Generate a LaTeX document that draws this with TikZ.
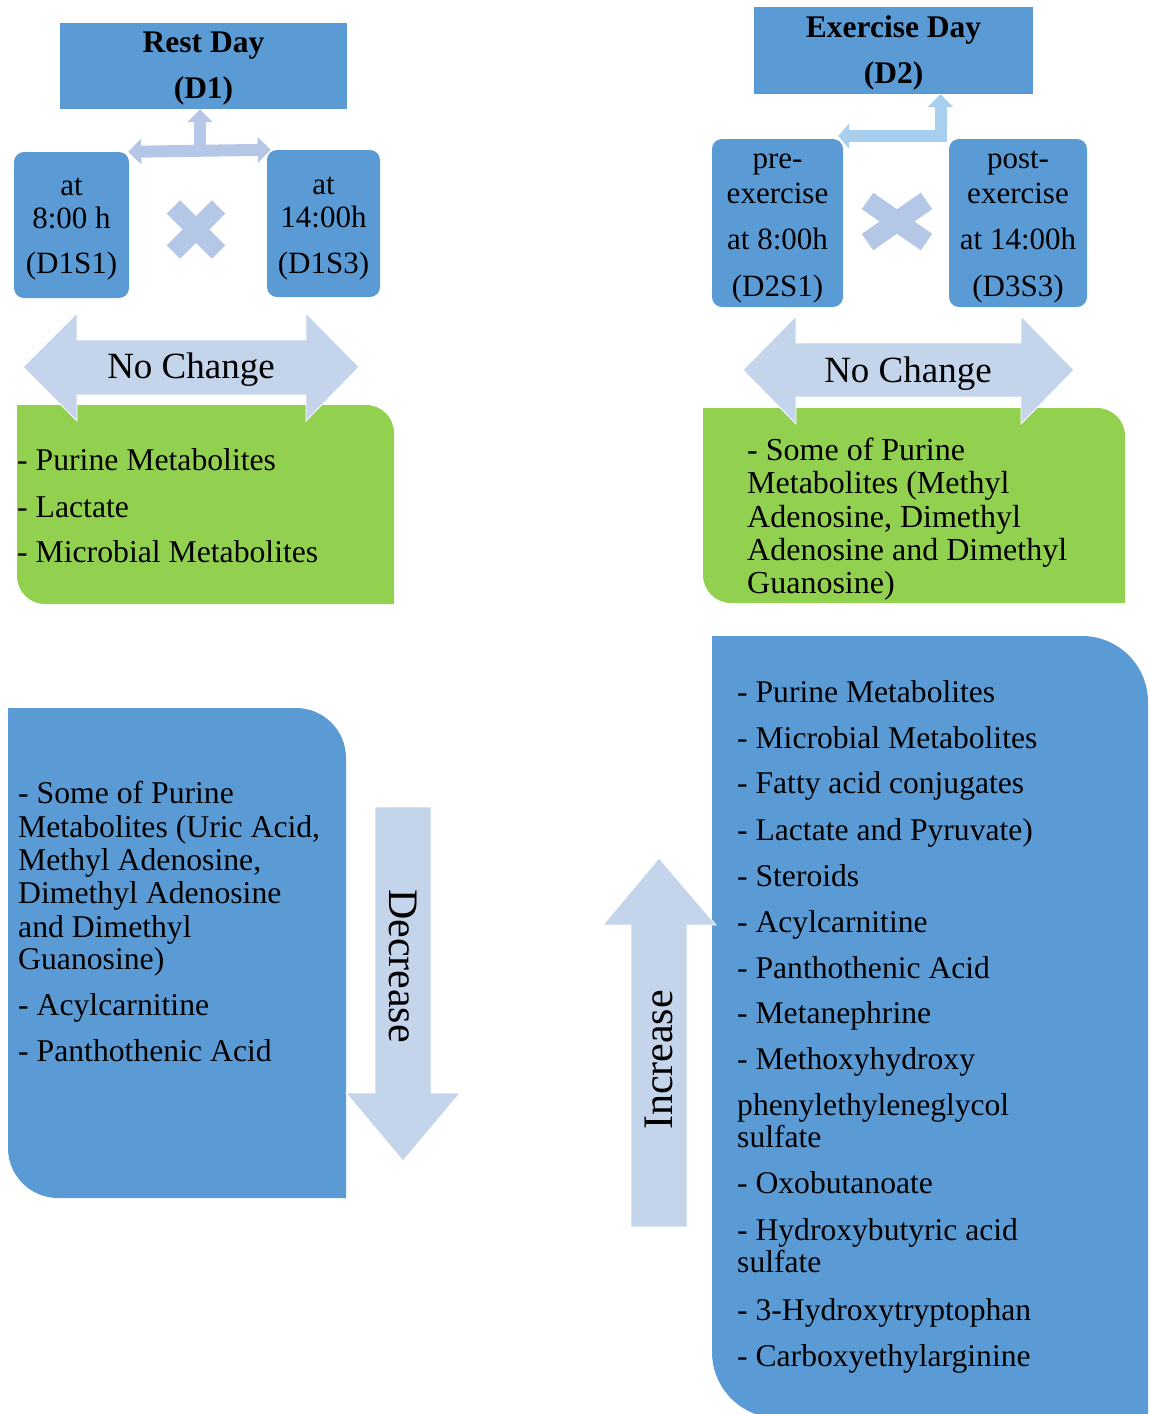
\documentclass[tikz,border=0pt]{standalone}
\usepackage{fontspec}
\setmainfont{Liberation Serif}
\usetikzlibrary{arrows.meta}
\definecolor{mblue}{HTML}{5B9BD5}
\definecolor{mgreen}{HTML}{92D050}
\definecolor{marrow}{HTML}{C4D5EB}
\definecolor{mcross}{HTML}{B4C7E7}
\definecolor{mconn}{HTML}{A9CFEE}
% box with rounded top-right and bottom-left corners: style, x1, y1, x2, y2, r
\newcommand\diagbox[6]{\fill[#1] (#2,#3) -- ({#4-#6},#3) .. controls ({#4-0.4477*#6},#3) and (#4,{#3+0.4477*#6}) .. (#4,{#3+#6}) -- (#4,#5) -- ({#2+#6},#5) .. controls ({#2+0.4477*#6},#5) and (#2,{#5-0.4477*#6}) .. (#2,{#5-#6}) -- cycle;}
\begin{document}
\begin{tikzpicture}[x=1pt,y=-1pt,
  hbox/.style={fill=mblue, inner sep=0, draw=none},
  sbox/.style={fill=mblue, rounded corners=10pt, inner sep=0, draw=none},
  htxt/.style={inner sep=0, anchor=base, font=\fontsize{31.5}{34}\selectfont\bfseries},
  stxt/.style={inner sep=0, anchor=base, font=\fontsize{31}{33}\selectfont},
  ltxtA/.style={inner sep=0, anchor=base west, font=\fontsize{31.7}{34}\selectfont},
  ltxtB/.style={inner sep=0, anchor=base west, font=\fontsize{32}{33}\selectfont},
  ltxtC/.style={inner sep=0, anchor=base west, font=\fontsize{31.6}{33}\selectfont},
  nctxt/.style={inner sep=0, anchor=base, font=\fontsize{37}{40}\selectfont},
  vtxt/.style={inner sep=0, anchor=center, font=\fontsize{42}{44}\selectfont},
  conn/.style={draw=mcross, line width=12pt},
  conntwo/.style={draw=mconn, line width=12pt, line join=miter},
  crossarm/.style={draw=mcross, line cap=butt},
  blockarrow/.style={fill=marrow, draw=white, line width=0.8pt}
]
\useasboundingbox (0,0) rectangle (1150,1414);

% ---------- header boxes ----------
\node[hbox, minimum width=287pt, minimum height=86pt] (rest) at (203.5,66) {};
\node[htxt] (restA) at (203.5,52) {Rest Day};
\node[htxt] (restB) at (203.5,98) {(D1)};

\node[hbox, minimum width=279pt, minimum height=87pt] (ex) at (893.5,50.5) {};
\node[htxt] (exA) at (893.5,37) {Exercise Day};
\node[htxt] (exB) at (893.5,83) {(D2)};

% ---------- sample boxes ----------
\node[sbox, minimum width=115pt, minimum height=146pt] (d1s1) at (71.5,225) {};
\node[stxt] (d1s1a) at (71.5,195) {at};
\node[stxt] (d1s1b) at (71.5,228) {8:00 h};
\node[stxt] (d1s1c) at (71.5,273) {(D1S1)};

\node[sbox, minimum width=113pt, minimum height=147pt] (d1s3) at (323.5,223.5) {};
\node[stxt] (d1s3a) at (323.5,194) {at};
\node[stxt] (d1s3b) at (323.5,227) {14:00h};
\node[stxt] (d1s3c) at (323.5,273) {(D1S3)};

\node[sbox, minimum width=131pt, minimum height=168pt] (d2s1) at (777.5,223) {};
\node[stxt] (d2s1a) at (777.5,168) {pre-};
\node[stxt] (d2s1b) at (777.5,203) {exercise};
\node[stxt] (d2s1c) at (777.5,249) {at 8:00h};
\node[stxt] (d2s1d) at (777.5,296) {(D2S1)};

\node[sbox, minimum width=138pt, minimum height=168pt] (d3s3) at (1018,223) {};
\node[stxt] (d3s3a) at (1018,168) {post-};
\node[stxt] (d3s3b) at (1018,203) {exercise};
\node[stxt] (d3s3c) at (1018,249) {at 14:00h};
\node[stxt] (d3s3d) at (1018,296) {(D3S3)};

% ---------- connectors ----------
\draw[conn, {Triangle[width=25pt,length=13pt]}-{Triangle[width=25pt,length=13pt]}, shorten >=-4pt, shorten <=-1pt]
  (d1s1.north east) -- (d1s3.north west);
\coordinate (vm) at (200,148);
\draw[conn, -{Triangle[width=25pt,length=13pt]}] (vm) -- (vm |- rest.south);

\coordinate (rc) at (940.5,136);
\draw[conntwo, {Triangle[width=25pt,length=11pt]}-{Triangle[width=25pt,length=13pt]}, shorten <=-5pt]
  (d2s1.north east |- rc) -- (rc) -- (rc |- ex.south);

% ---------- crosses ----------
\draw[crossarm, line width=19pt] (173.4,206.9) -- (218.6,252.1);
\draw[crossarm, line width=19pt] (173.4,252.1) -- (218.6,206.9);
\draw[crossarm, line width=20pt] (867.5,200.9) -- (926.5,242.1);
\draw[crossarm, line width=20pt] (867.5,242.1) -- (926.5,200.9);

% ---------- green boxes ----------
\diagbox{mgreen}{17}{405}{394}{604}{28}
\diagbox{mgreen}{703}{408}{1125}{603}{28}

% ---------- No Change arrows ----------
\filldraw[blockarrow] (23,367) -- (77,313) -- (77,340) -- (306,340) -- (306,313) -- (359,367)
  -- (306,421) -- (306,395) -- (77,395) -- (77,421) -- cycle;
\node[nctxt] (nc1) at (191,378) {No Change};
\filldraw[blockarrow] (743,370) -- (796,316) -- (796,343) -- (1021,343) -- (1021,316) -- (1074,370)
  -- (1021,424) -- (1021,397) -- (796,397) -- (796,424) -- cycle;
\node[nctxt] (nc2) at (908,382) {No Change};

% green texts
\foreach \y/\tx [count=\i] in {470/{- Purine Metabolites}, 517/{- Lactate}, 562/{- Microbial Metabolites}}
  \node[ltxtA] (gl\i) at (17,\y) {\tx};
\foreach \y/\tx [count=\i] in {460/{- Some of Purine}, 493/{Metabolites (Methyl}, 527/{Adenosine, Dimethyl}, 560/{Adenosine and Dimethyl}, 593/{Guanosine)}}
  \node[ltxtB] (gr\i) at (747,\y) {\tx};

% ---------- decrease ----------
\diagbox{mblue}{8}{708}{346}{1198}{50}
\filldraw[blockarrow] (375,807) -- (431,807) -- (431,1093) -- (460,1093) -- (403,1161) -- (346,1093) -- (375,1093) -- cycle;
\node[vtxt, rotate=-90] (dec) at (403.5,966) {Decrease};
\foreach \y/\tx [count=\i] in {803/{- Some of Purine}, 837/{Metabolites (Uric Acid,}, 870/{Methyl Adenosine,}, 903/{Dimethyl Adenosine}, 937/{and Dimethyl}, 969/{Guanosine)}, 1015/{- Acylcarnitine}, 1061/{- Panthothenic Acid}}
  \node[ltxtA] (bl\i) at (18,\y) {\tx};

% ---------- increase ----------
\begin{scope}
\clip (0,0) rectangle (1150,1414);
\diagbox{mblue}{712}{636}{1148}{1418}{66}
\end{scope}
\filldraw[blockarrow] (631,1227) -- (631,925) -- (603,925) -- (659,858) -- (716,925) -- (687,925) -- (687,1227) -- cycle;
\node[vtxt, rotate=90] (inc) at (659,1060) {Increase};
\foreach \y/\tx [count=\i] in {702/{- Purine Metabolites}, 748/{- Microbial Metabolites}, 793/{- Fatty acid conjugates}, 840/{- Lactate and Pyruvate)}, 886/{- Steroids}, 932/{- Acylcarnitine}, 978/{- Panthothenic Acid}, 1023/{- Metanephrine}, 1069/{- Methoxyhydroxy}, 1115/{phenylethyleneglycol}, 1147/{sulfate}, 1193/{- Oxobutanoate}, 1240/{- Hydroxybutyric acid}, 1272/{sulfate}, 1320/{- 3-Hydroxytryptophan}, 1366/{- Carboxyethylarginine}}
  \node[ltxtC] (br\i) at (737,\y) {\tx};
\end{tikzpicture}
\end{document}
